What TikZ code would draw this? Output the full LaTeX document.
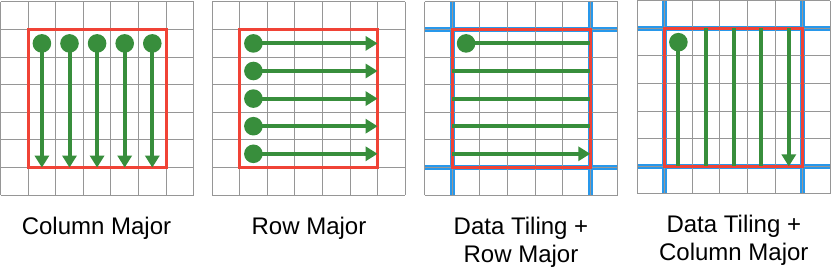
\documentclass[tikz,border=0pt]{standalone}
\usepackage{fontspec}
\setmainfont{Liberation Sans}
\usetikzlibrary{arrows.meta}
\definecolor{gridgray}{RGB}{150,150,150}
\definecolor{boxred}{RGB}{240,67,54}
\definecolor{flowgreen}{RGB}{56,142,60}
\definecolor{tileblue}{RGB}{40,152,235}
\tikzset{
  gridline/.style={draw=gridgray, line width=1pt},
  redbox/.style={draw=boxred, line width=2.8pt},
  tileline/.style={draw=tileblue, line width=5pt},
  flow/.style={draw=flowgreen, line width=4pt},
  flowarrow/.style={flow, -{Triangle[width=14pt,length=12pt]}},
  dot/.style={circle, fill=flowgreen, inner sep=0pt, minimum size=18.6pt},
  lbl/.style={anchor=base, inner sep=0pt, font=\fontsize{24}{28}\selectfont},
}
\begin{document}
\begin{tikzpicture}[x=1pt, y=-1pt]
\useasboundingbox (0,0) rectangle (831,267);
\fill[white] (0,0) rectangle (831,267);

% ---------- Panel 1: Column Major ----------
\begin{scope}[shift={(0.5,2)}, x=27.6pt, y=-27.6pt]
  \foreach \i in {0,...,7} {
    \draw[gridline] (\i,0) -- (\i,7);
    \draw[gridline] (0,\i) -- (7,\i);
  }
  \draw[redbox] (1,1) rectangle (6,6);
  \foreach \k in {1,...,5} {
    \node[dot] (ad\k) at (\k+0.5,1.5) {};
    \coordinate (ae\k) at (\k+0.5,6);
    \draw[flowarrow] (ad\k.center) -- (ae\k);
  }
\end{scope}

% ---------- Panel 2: Row Major ----------
\begin{scope}[shift={(212,2)}, x=27.6pt, y=-27.6pt]
  \foreach \i in {0,...,7} {
    \draw[gridline] (\i,0) -- (\i,7);
    \draw[gridline] (0,\i) -- (7,\i);
  }
  \draw[redbox] (1,1) rectangle (6,6);
  \foreach \k in {1,...,5} {
    \node[dot] (bd\k) at (1.5,\k+0.5) {};
    \coordinate (be\k) at (6,\k+0.5);
    \draw[flowarrow] (bd\k.center) -- (be\k);
  }
\end{scope}

% ---------- Panel 3: Data Tiling + Row Major ----------
\begin{scope}[shift={(424.7,2)}, x=27.6pt, y=-27.6pt]
  \draw[tileline] (1,0) -- (1,7);
  \draw[tileline] (6,0) -- (6,7);
  \draw[tileline] (0,1) -- (7,1);
  \draw[tileline] (0,6) -- (7,6);
  \foreach \i in {0,...,7} {
    \draw[gridline] (\i,0) -- (\i,7);
    \draw[gridline] (0,\i) -- (7,\i);
  }
  \draw[redbox] (1,1) rectangle (6,6);
  \node[dot] (cd) at (1.5,1.5) {};
  \foreach \k in {1,...,5} {
    \coordinate (ca\k) at (1,\k+0.5);
    \coordinate (cb\k) at (6,\k+0.5);
  }
  \draw[flow] (cd.center) -- (cb1);
  \draw[flow] (ca2) -- (cb2);
  \draw[flow] (ca3) -- (cb3);
  \draw[flow] (ca4) -- (cb4);
  \draw[flowarrow] (ca5) -- (cb5);
\end{scope}

% ---------- Panel 4: Data Tiling + Column Major ----------
\begin{scope}[shift={(637,0.8)}, x=27.6pt, y=-27.6pt]
  \draw[tileline] (1,0) -- (1,7);
  \draw[tileline] (6,0) -- (6,7);
  \draw[tileline] (0,1) -- (7,1);
  \draw[tileline] (0,6) -- (7,6);
  \foreach \i in {0,...,7} {
    \draw[gridline] (\i,0) -- (\i,7);
    \draw[gridline] (0,\i) -- (7,\i);
  }
  \draw[redbox] (1,1) rectangle (6,6);
  \node[dot] (dd) at (1.5,1.5) {};
  \foreach \k in {1,...,5} {
    \coordinate (da\k) at (\k+0.5,1);
    \coordinate (db\k) at (\k+0.5,6);
  }
  \draw[flow] (dd.center) -- (db1);
  \draw[flow] (da2) -- (db2);
  \draw[flow] (da3) -- (db3);
  \draw[flow] (da4) -- (db4);
  \draw[flowarrow] (da5) -- (db5);
\end{scope}

% ---------- Labels ----------
\node[lbl] (l1) at (96.5,234.7) {Column Major};
\node[lbl] (l2) at (309,234.7) {Row Major};
\node[lbl] (l3a) at (521,234.7) {Data Tiling +};
\node[lbl] (l3b) at (521,262.3) {Row Major};
\node[lbl] (l4a) at (733.8,232.7) {Data Tiling +};
\node[lbl] (l4b) at (733.8,260.3) {Column Major};
\end{tikzpicture}
\end{document}
